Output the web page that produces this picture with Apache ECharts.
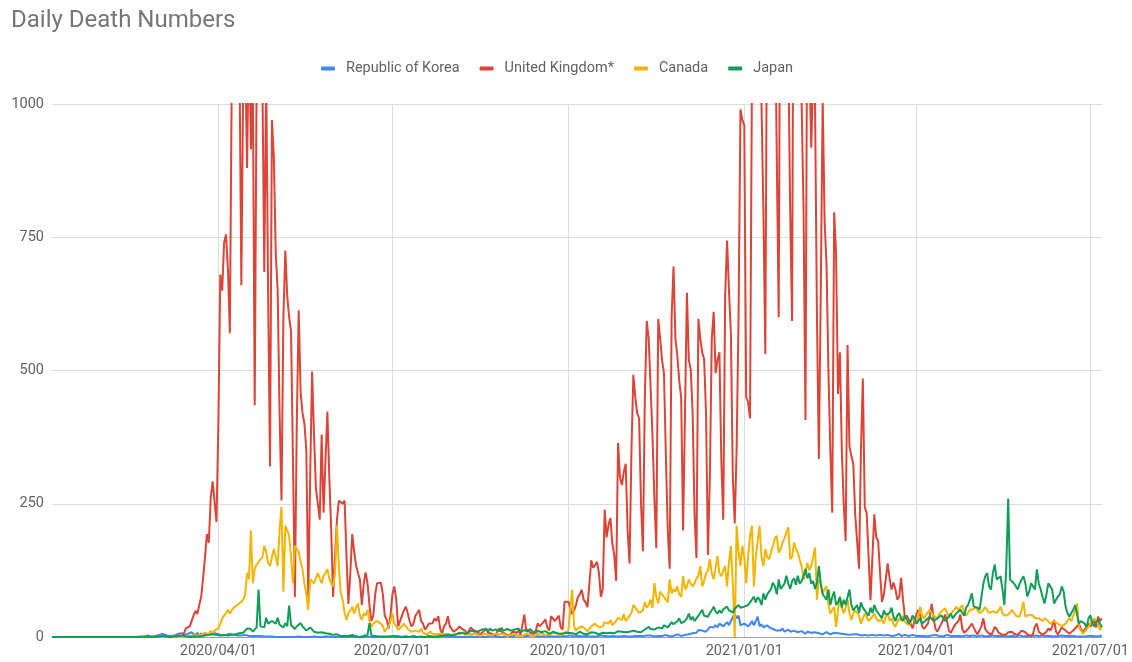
<!DOCTYPE html>
<html>
<head>
<meta charset="utf-8">
<script src="https://cdn.jsdelivr.net/npm/echarts@6/dist/echarts.min.js"></script>
<style>
html,body{margin:0;padding:0;background:#fff;}
#chart{width:1132px;height:662px;}
</style>
</head>
<body>
<div id="chart"></div>
<script>
// ---- Data (daily values, first day 2020-01-05, last day 2021-07-07) ----
const startDate = '2020-01-05';
const seriesNames = ['Republic of Korea', 'United Kingdom*', 'Canada', 'Japan'];
const tickLabels = ['2020/04/01', '2020/07/01', '2020/10/01', '2021/01/01', '2021/04/01', '2021/07/01'];
const yTicks = [0, 250, 500, 750, 1000];

const koreaDeaths = [
/*2020-01 5..31*/0,0,0,0,0,0,0,0,0,0,0,0,0,0,0,0,0,0,0,0,0,0,0,0,0,0,0,
/*2020-02*/0,0,0,0,0,0,0,0,0,0,0,0,0,0,0,0,0,0,0,1,1,0,0,3,1,1,1,2,3,
/*2020-03*/4,5,6,4,3,6,2,3,3,4,6,6,7,3,3,6,3,9,7,3,8,2,7,3,6,5,4,5,6,7,4,
/*2020-04*/5,4,3,3,4,4,6,3,4,4,3,3,3,3,4,4,2,1,2,1,2,1,2,1,1,0,1,1,1,1,
/*2020-05*/0,2,0,2,0,0,0,1,0,0,0,0,1,0,0,1,0,1,0,0,1,1,0,0,0,1,1,0,1,0,0,
/*2020-06*/0,0,0,1,0,0,1,0,0,0,1,1,0,0,1,0,0,1,0,0,0,0,1,1,1,0,1,0,0,1,
/*2020-07*/0,1,0,1,0,0,0,1,1,0,0,0,1,0,0,0,1,0,0,0,1,0,0,0,0,1,0,1,0,1,1,
/*2020-08*/0,0,0,1,0,0,0,0,0,0,1,0,0,0,1,0,0,0,0,0,2,1,1,2,1,1,0,2,1,2,2,
/*2020-09*/2,1,3,3,1,1,1,2,3,2,2,3,1,2,2,1,2,1,1,2,1,1,2,1,3,1,1,2,0,1,
/*2020-10*/2,3,1,1,1,2,1,1,1,2,1,1,2,1,2,1,2,3,1,2,2,1,1,2,2,1,3,1,1,2,1,
/*2020-11*/1,2,1,1,2,1,2,1,2,1,3,2,3,2,1,3,2,1,2,1,4,2,1,3,2,3,5,4,2,3,
/*2020-12*/4,3,5,6,7,5,8,13,10,12,15,10,14,19,16,18,22,18,25,24,20,24,28,22,30,30,44,35,40,22,25,
/*2021-01*/25,22,20,24,30,22,25,38,20,24,18,15,22,18,16,15,18,12,14,12,16,10,12,14,10,8,12,10,9,7,11,
/*2021-02*/8,6,10,7,8,5,9,6,7,8,5,6,9,7,5,6,8,5,7,4,6,8,5,7,4,6,5,3,
/*2021-03*/5,4,3,6,4,5,3,2,4,5,3,6,4,2,3,5,4,3,2,5,3,4,6,2,3,4,5,2,3,4,3,
/*2021-04*/2,3,2,4,2,3,1,2,3,2,4,3,2,3,1,2,4,3,2,1,2,3,2,3,1,2,3,4,2,3,
/*2021-05*/3,2,1,2,3,2,1,3,2,2,3,1,2,3,2,1,2,3,1,2,2,3,1,2,3,2,1,3,2,1,2,
/*2021-06*/2,3,1,2,2,3,1,2,1,2,3,1,2,2,1,3,1,2,1,2,1,2,3,1,2,1,2,1,2,2,
/*2021-07 1..7*/1,2,3,1,2,2,3
];

const ukDeaths = [
/*2020-01*/0,0,0,0,0,0,0,0,0,0,0,0,0,0,0,0,0,0,0,0,0,0,0,0,0,0,0,
/*2020-02*/0,0,0,0,0,0,0,0,0,0,0,0,0,0,0,0,0,0,0,0,0,0,0,0,0,0,0,0,0,
/*2020-03*/0,0,0,0,1,1,0,2,2,1,3,3,1,7,16,18,20,23,40,49,43,60,75,110,150,193,177,260,292,295,216,
/*2020-04*/400,680,650,740,755,690,570,1050,1150,1100,1200,1100,660,1050,1100,880,1150,915,1050,435,1050,1200,1100,1050,685,1050,650,320,970,900,
/*2020-05*/720,650,420,256,600,725,640,600,574,330,75,400,613,460,420,400,350,75,300,498,380,279,250,220,380,233,330,423,300,200,75,
/*2020-06*/150,220,256,259,250,256,150,62,120,193,160,134,120,108,60,100,121,100,60,30,40,80,101,102,102,80,40,33,16,40,
/*2020-07*/80,95,70,20,23,40,50,57,45,30,20,25,40,45,51,30,25,14,18,25,22,26,35,30,39,15,7,20,25,39,20,
/*2020-08*/18,10,8,15,20,16,14,12,6,8,18,14,12,10,12,5,4,12,16,8,10,6,4,3,12,16,10,8,6,3,2,
/*2020-09*/3,10,12,8,12,4,3,42,10,14,8,10,6,12,26,20,22,28,33,18,12,39,39,30,35,40,18,14,66,64,
/*2020-10*/66,55,43,50,60,75,80,89,70,65,56,100,144,130,135,141,120,75,90,239,187,210,223,175,154,105,364,300,285,310,325,
/*2020-11*/200,138,350,492,450,420,410,250,161,450,593,561,470,377,260,167,597,560,520,495,340,200,128,600,695,560,528,480,449,200,
/*2020-12*/420,646,520,502,420,230,148,597,560,534,521,420,154,300,560,610,495,520,534,330,220,640,744,650,570,300,213,354,600,990,970,
/*2021-01*/960,450,440,410,1050,1200,1300,1350,1200,1000,800,531,1300,1400,1300,1250,1200,900,600,1500,1600,1400,1300,1100,800,593,1600,1500,1300,1200,1000,
/*2021-02*/800,407,1300,1100,918,1050,1000,600,334,650,1010,780,700,500,350,233,797,718,456,534,350,250,180,548,357,340,325,230,
/*2021-03*/180,128,350,485,243,233,150,69,150,230,187,180,120,66,80,110,138,110,89,102,90,70,75,111,70,36,40,43,25,16,30,
/*2021-04*/43,51,40,20,15,13,25,40,62,35,15,10,10,25,32,42,30,12,8,10,22,25,30,42,15,8,6,15,20,25,
/*2021-05*/25,10,5,8,20,35,15,10,8,4,10,19,15,8,6,4,3,5,9,12,10,6,3,4,8,12,10,9,5,4,2,
/*2021-06*/6,20,25,10,8,4,3,10,16,12,20,32,10,5,8,18,15,12,10,6,5,12,16,20,25,15,10,8,18,25,
/*2021-07*/20,25,32,18,38,30,35
];

const canadaDeaths = [
/*2020-01*/0,0,0,0,0,0,0,0,0,0,0,0,0,0,0,0,0,0,0,0,0,0,0,0,0,0,0,
/*2020-02*/0,0,0,0,0,0,0,0,0,0,0,0,0,0,0,0,0,0,0,0,0,0,0,0,0,0,0,0,0,
/*2020-03*/0,0,0,0,0,0,0,0,1,0,0,0,0,0,0,3,3,2,3,2,3,5,4,6,8,8,5,12,7,12,14,
/*2020-04*/16,25,35,40,45,51,44,50,55,57,60,63,66,70,80,120,108,200,101,128,136,140,146,150,171,160,139,133,150,165,
/*2020-05*/150,133,200,244,85,209,200,190,150,101,171,165,160,140,127,100,80,51,108,105,101,110,120,110,101,115,120,127,110,100,95,
/*2020-06*/120,209,133,82,70,45,32,45,50,57,44,55,63,40,32,45,40,51,30,19,25,28,30,32,25,20,10,15,20,30,
/*2020-07*/44,25,20,13,15,20,25,28,15,12,10,8,12,14,10,16,8,6,5,8,10,6,7,5,4,6,8,5,7,6,5,
/*2020-08*/4,3,6,8,5,7,9,4,3,6,7,5,8,6,3,2,5,6,7,4,5,3,2,6,8,5,4,6,3,2,5,
/*2020-09*/4,6,5,3,2,1,2,4,6,5,3,2,1,4,6,5,7,4,3,2,5,6,8,5,7,4,3,6,8,10,
/*2020-10*/12,15,89,20,12,16,18,20,22,15,10,12,20,22,25,24,18,15,20,28,30,25,32,22,20,30,36,38,32,43,30,
/*2020-11*/28,40,45,60,55,50,45,42,50,65,55,60,70,55,101,75,63,85,80,82,70,65,108,82,90,85,95,80,75,114,
/*2020-12*/89,95,108,100,95,101,110,115,133,95,105,120,125,146,120,108,130,152,120,114,125,133,95,140,171,100,0,209,160,133,171,
/*2021-01*/150,101,150,190,209,95,150,180,209,150,133,165,150,146,160,171,185,190,158,165,177,185,196,206,146,150,177,165,158,145,133,
/*2021-02*/108,120,139,125,133,150,168,70,108,100,82,90,95,60,44,50,57,19,50,76,55,44,55,70,45,32,45,50,
/*2021-03*/50,40,25,35,44,38,30,32,38,44,35,30,28,32,25,38,44,30,35,25,19,28,35,30,40,28,30,22,25,35,30,
/*2021-04*/25,40,57,40,35,42,45,51,45,40,38,35,44,48,50,54,45,38,40,48,52,57,50,55,60,45,40,38,51,48,
/*2021-05*/52,57,50,45,47,50,57,50,45,44,48,51,45,50,57,45,40,38,42,45,51,45,40,42,38,50,66,38,40,42,44,
/*2021-06*/40,35,38,35,32,30,35,38,30,25,28,30,32,25,22,20,19,25,28,35,30,40,50,63,19,12,6,10,15,19,
/*2021-07*/25,30,35,38,25,13,20
];

const japanDeaths = [
/*2020-01*/0,0,0,0,0,0,0,0,0,0,0,0,0,0,0,0,0,0,0,0,0,0,0,0,0,0,0,
/*2020-02*/0,0,0,0,0,0,0,0,0,0,0,0,1,0,0,0,0,0,1,0,0,1,0,0,1,0,1,0,1,
/*2020-03*/1,0,2,0,1,1,0,1,1,3,2,1,3,2,1,2,0,3,1,2,1,2,1,2,3,2,4,2,5,3,4,
/*2020-04*/2,3,1,4,2,3,5,4,6,5,8,7,10,8,12,16,14,15,10,12,18,89,20,23,18,36,25,22,30,28,
/*2020-05*/25,36,23,20,18,26,20,59,22,23,15,20,18,26,20,16,12,14,18,15,10,12,8,6,9,11,7,8,6,5,4,
/*2020-06*/3,5,4,2,3,2,1,2,3,4,2,1,2,0,1,2,3,4,26,3,1,2,1,0,2,1,0,1,2,1,
/*2020-07*/1,2,0,1,1,0,2,1,1,0,1,2,1,0,1,1,2,0,1,2,0,1,3,1,0,2,1,3,2,4,3,
/*2020-08*/3,5,4,6,8,5,7,10,6,8,12,9,10,13,11,8,14,12,15,10,16,12,9,14,15,11,17,12,10,15,13,
/*2020-09*/12,10,14,11,16,9,8,13,12,10,15,11,9,8,12,10,9,7,11,8,6,9,10,8,7,9,6,8,7,9,
/*2020-10*/8,6,7,9,5,8,10,7,6,8,5,7,9,6,8,7,5,6,8,9,7,6,8,10,7,9,11,8,10,7,9,
/*2020-11*/8,10,9,12,11,10,13,9,12,14,16,19,15,12,14,17,18,20,16,22,25,18,20,28,24,22,30,35,26,28,
/*2020-12*/30,35,44,32,38,30,35,40,38,51,40,42,38,45,50,57,48,44,50,45,52,55,57,50,48,46,53,56,60,55,57,
/*2021-01*/57,56,60,65,70,76,65,75,70,60,82,70,80,85,90,102,95,80,108,90,95,100,115,100,90,105,110,98,115,100,105,
/*2021-02*/114,128,110,120,100,105,90,101,133,100,80,75,70,89,60,75,85,60,65,75,55,70,60,75,89,60,50,55,
/*2021-03*/60,45,65,55,50,48,40,55,45,60,50,45,40,35,50,42,40,45,55,38,30,40,45,35,30,40,38,25,30,40,35,
/*2021-04*/25,30,35,25,28,32,30,38,35,30,28,35,38,41,35,30,33,38,44,35,40,45,42,51,45,40,55,60,70,82,
/*2021-05*/57,60,55,51,75,100,114,120,95,89,120,136,108,110,114,90,60,130,260,108,110,101,95,89,100,108,114,100,76,85,101,
/*2021-06*/95,89,127,100,89,75,63,80,101,95,89,63,70,76,80,95,85,57,45,38,45,51,60,63,25,30,32,25,19,35,
/*2021-07*/41,25,20,28,32,25,19
];

// ---- Build category dates ----
function fmt(d) {
  const y = d.getUTCFullYear();
  const m = String(d.getUTCMonth() + 1).padStart(2, '0');
  const dd = String(d.getUTCDate()).padStart(2, '0');
  return y + '/' + m + '/' + dd;
}
const nDays = Math.max(koreaDeaths.length, ukDeaths.length, canadaDeaths.length, japanDeaths.length);
const start = new Date(startDate + 'T00:00:00Z');
const dates = [];
for (let i = 0; i < nDays; i++) {
  dates.push(fmt(new Date(start.getTime() + i * 86400000)));
}
const isTick = (idx, val) => tickLabels.indexOf(val) >= 0;

const colors = ['#4285F4', '#DB4437', '#F4B400', '#0F9D58'];
const allData = [koreaDeaths, ukDeaths, canadaDeaths, japanDeaths];
const FONT = 'Roboto, "Noto Sans", Arial, sans-serif';

const chart = echarts.init(document.getElementById('chart'), null, { renderer: 'canvas' });
chart.setOption({
  animation: false,
  backgroundColor: '#ffffff',
  color: colors,
  textStyle: { fontFamily: FONT },
  title: {
    text: 'Daily Death Numbers',
    left: 6,
    top: 4,
    textStyle: { fontFamily: FONT, fontSize: 24, fontWeight: 'normal', color: '#757575' }
  },
  legend: {
    data: seriesNames,
    left: 316,
    top: 56,
    icon: 'roundRect',
    itemWidth: 14,
    itemHeight: 4,
    itemGap: 20,
    textStyle: { fontFamily: FONT, fontSize: 14.5, color: '#616161', padding: [0, 0, 0, 6] }
  },
  grid: { left: 52, right: 29, top: 104, bottom: 25, containLabel: false },
  xAxis: {
    type: 'category',
    data: dates,
    boundaryGap: false,
    axisLine: { show: true, lineStyle: { color: '#9e9e9e', width: 1 } },
    axisTick: { show: false },
    axisLabel: { interval: isTick, color: '#616161', fontSize: 14.5, margin: 7, fontFamily: FONT },
    splitLine: { show: true, interval: isTick, lineStyle: { color: '#dcdcdc', width: 1 } }
  },
  yAxis: {
    type: 'value',
    min: yTicks[0],
    max: yTicks[yTicks.length - 1],
    interval: yTicks[1] - yTicks[0],
    axisLine: { show: false },
    axisTick: { show: false },
    axisLabel: { color: '#616161', fontSize: 14.5, margin: 8, fontFamily: FONT, formatter: v => String(v) },
    splitLine: { show: true, lineStyle: { color: '#dcdcdc', width: 1 } }
  },
  series: seriesNames.map((name, i) => ({
    name: name,
    type: 'line',
    data: allData[i],
    showSymbol: false,
    symbol: 'none',
    clip: true,
    lineStyle: { width: 2, color: colors[i] },
    itemStyle: { color: colors[i] },
    emphasis: { disabled: true }
  }))
});
</script>
</body>
</html>
